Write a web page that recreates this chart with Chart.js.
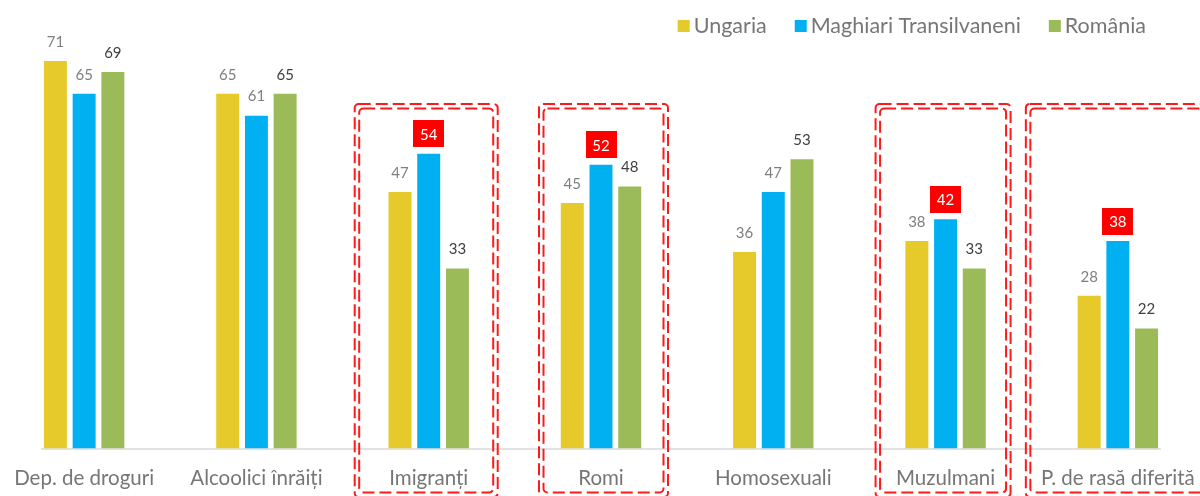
<!DOCTYPE html>
<html>
<head>
<meta charset="utf-8">
<script src="https://cdn.jsdelivr.net/npm/chart.js@4/dist/chart.umd.min.js"></script>
<style>
  html, body { margin: 0; padding: 0; background: #fff; overflow: hidden; }
  #wrap { position: absolute; left: -2px; top: 0; width: 1206px; height: 496px; }
</style>
</head>
<body>
<div id="wrap"><canvas id="chart"></canvas></div>
<script>
// data
const categories = ['Dep. de droguri', 'Alcoolici înrăiți', 'Imigranți', 'Romi', 'Homosexuali', 'Muzulmani', 'P. de rasă diferită'];
const ungaria = [71, 65, 47, 45, 36, 38, 28];
const maghiari = [65, 61, 54, 52, 47, 42, 38];
const romania = [69, 65, 33, 48, 53, 33, 22];
const seriesNames = ['Ungaria', 'Maghiari Transilvaneni', 'România'];
const highlighted = ['Imigranți', 'Romi', 'Muzulmani', 'P. de rasă diferită'];

const colors = ['#e6c92a', '#00b0f0', '#9bbb59'];
const labelColors = ['#7f7f7f', '#7f7f7f', '#404040'];
const FONT = 'Lato, "Liberation Sans", sans-serif';

// red dashed frames: offsets (px) from the category centre
const frames = [
  { cat: 'Imigranți', left: -74, right: 69 },
  { cat: 'Romi', left: -62, right: 67 },
  { cat: 'Muzulmani', left: -70, right: 65 },
  { cat: 'P. de rasă diferită', left: -92, right: 120 }
];

const decorations = {
  id: 'decorations',
  beforeDatasetsDraw(chart) {
    const ctx = chart.ctx;
    const x = chart.scales.x;
    const y0 = chart.scales.y.getPixelForValue(0);
    // base axis line
    ctx.save();
    ctx.strokeStyle = '#d9d9d9';
    ctx.lineWidth = 1.5;
    ctx.beginPath();
    ctx.moveTo(x.getPixelForValue(0) - 43, y0 + 0.5);
    ctx.lineTo(x.getPixelForValue(categories.length - 1) + 43, y0 + 0.5);
    ctx.stroke();
    ctx.restore();
  },
  afterDatasetsDraw(chart) {
    const ctx = chart.ctx;
    const x = chart.scales.x;
    ctx.save();
    ctx.font = '15px ' + FONT;
    ctx.textAlign = 'center';
    ctx.textBaseline = 'middle';
    chart.data.datasets.forEach((ds, i) => {
      chart.getDatasetMeta(i).data.forEach((bar, j) => {
        const cy = bar.y - 20;
        if (i === 1 && highlighted.includes(categories[j])) {
          ctx.fillStyle = '#ff0000';
          ctx.fillRect(Math.round(bar.x - 15.5), Math.round(cy - 13.5), 31, 27);
          ctx.fillStyle = '#ffffff';
        } else {
          ctx.fillStyle = labelColors[i];
        }
        ctx.fillText(String(ds.data[j]), bar.x, cy + 1);
      });
    });

    // double dashed frames
    ctx.strokeStyle = '#ff1a1a';
    ctx.lineWidth = 2;
    ctx.setLineDash([12, 5]);
    frames.forEach(f => {
      const cx = x.getPixelForValue(categories.indexOf(f.cat));
      const l = cx + f.left, r = cx + f.right, t = 104, b = 497;
      [0, 4.5].forEach(inset => {
        ctx.beginPath();
        ctx.roundRect(l + inset, t + inset, r - l - 2 * inset, b - t - 2 * inset, 4);
        ctx.stroke();
      });
    });
    ctx.setLineDash([]);

    // legend, right aligned
    ctx.font = '21.5px ' + FONT;
    ctx.textAlign = 'left';
    const rightEnd = chart.width - 58;
    const widths = seriesNames.map(n => ctx.measureText(n).width);
    let total = 0;
    widths.forEach((w, i) => { total += 16 + w + (i < widths.length - 1 ? 28 : 0); });
    let lx = rightEnd - total;
    seriesNames.forEach((n, i) => {
      ctx.fillStyle = colors[i];
      ctx.fillRect(lx, 20, 12, 12);
      ctx.fillStyle = '#767676';
      ctx.fillText(n, lx + 16, 26);
      lx += 16 + widths[i] + 28;
    });
    ctx.restore();
  }
};

const ctx = document.getElementById('chart').getContext('2d');
const chart = new Chart(ctx, {
  type: 'bar',
  data: {
    labels: categories,
    datasets: [
      { label: seriesNames[0], data: ungaria, backgroundColor: colors[0] },
      { label: seriesNames[1], data: maghiari, backgroundColor: colors[1] },
      { label: seriesNames[2], data: romania, backgroundColor: colors[2] }
    ]
  },
  options: {
    responsive: true,
    maintainAspectRatio: false,
    animation: false,
    layout: { padding: { top: 12, bottom: -13, left: 0, right: 0 } },
    datasets: { bar: { categoryPercentage: 0.5, barPercentage: 0.8 } },
    plugins: {
      legend: { display: false },
      tooltip: { enabled: false }
    },
    scales: {
      x: {
        grid: { display: false, drawTicks: false },
        border: { display: false },
        ticks: {
          color: '#767676',
          font: { family: FONT, size: 20.5 },
          padding: 18,
          maxRotation: 0,
          autoSkip: false
        },
        afterFit(scale) {
          scale.paddingLeft = 0;
          scale.paddingRight = 0;
        }
      },
      y: {
        display: false,
        min: 0,
        max: 80
      }
    }
  },
  plugins: [decorations]
});
</script>
</body>
</html>
